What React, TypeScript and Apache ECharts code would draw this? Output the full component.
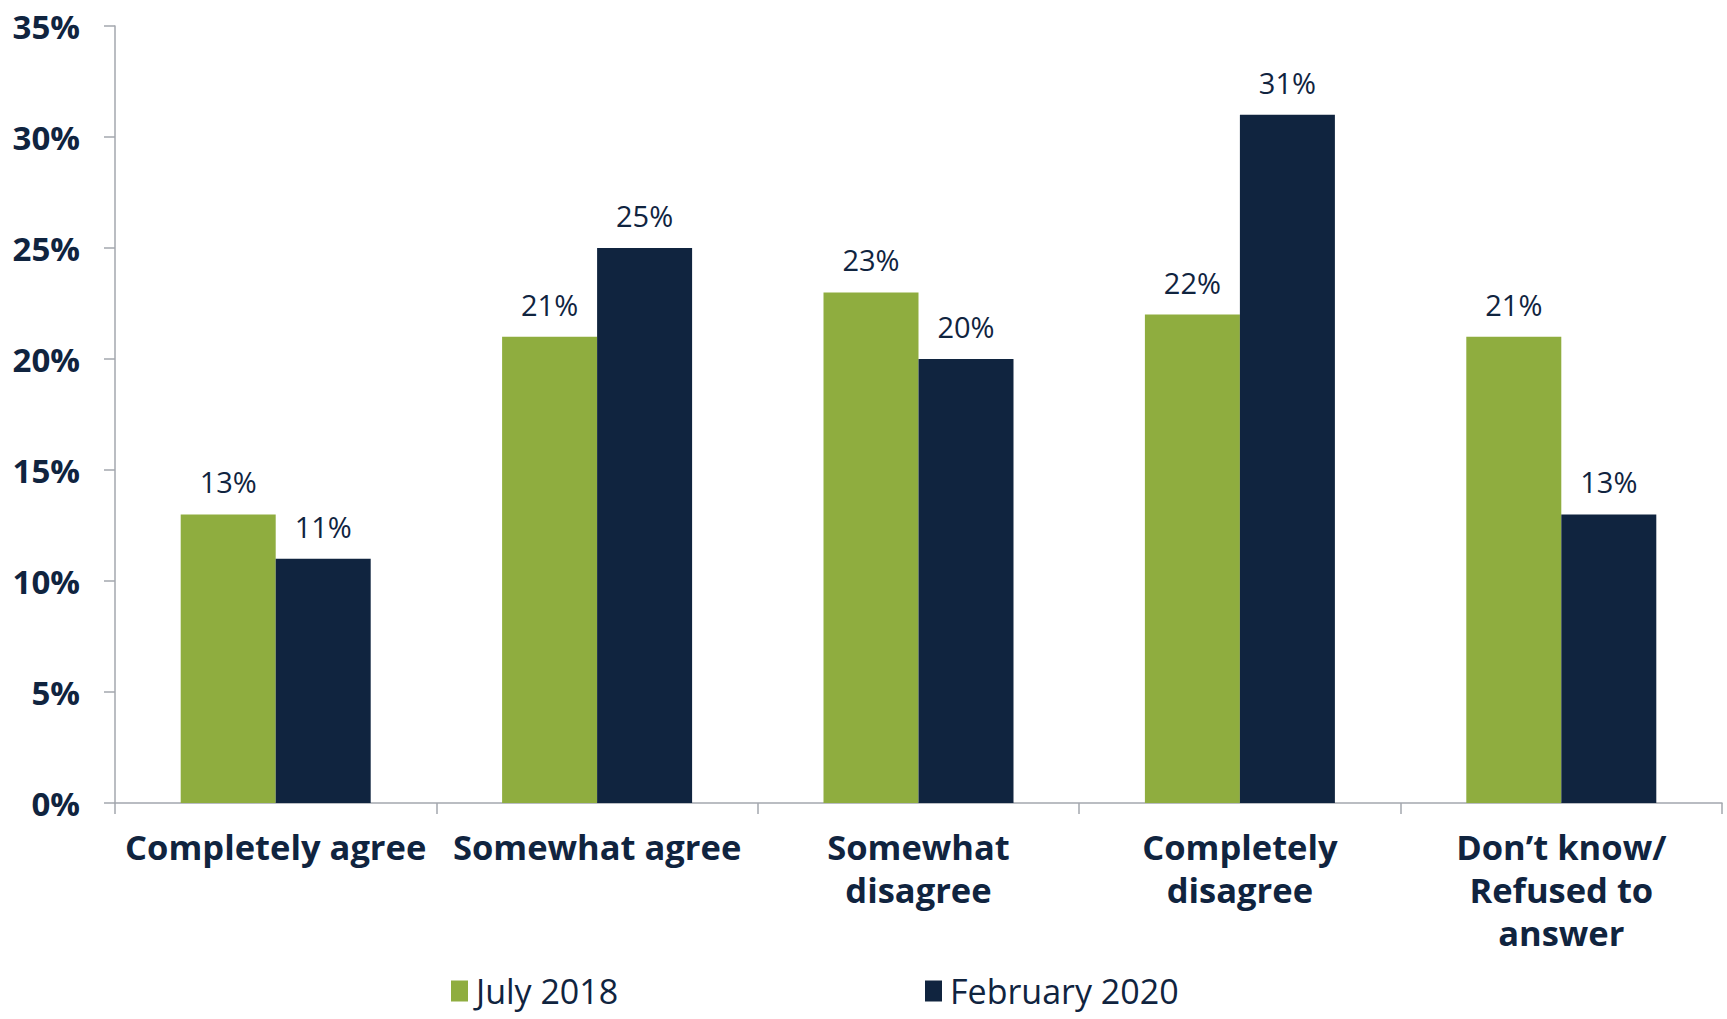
import React, { useEffect, useRef } from "react";
import * as echarts from "echarts";

const categories = [
  "Completely agree",
  "Somewhat agree",
  "Somewhat\ndisagree",
  "Completely\ndisagree",
  "Don’t know/\nRefused to\nanswer",
];
const july2018 = [13, 21, 23, 22, 21];
const feb2020 = [11, 25, 20, 31, 13];
const seriesNames = ["July 2018", "February 2020"];

const GREEN = "#8FAD3F";
const NAVY = "#10243F";
const TEXT = "#10243F";
const AXIS = "#A3A7AE";
const FONT = "'Open Sans', sans-serif";

export default function App() {
  const ref = useRef<HTMLDivElement>(null);
  useEffect(() => {
    if (!ref.current) return;
    const chart = echarts.init(ref.current, undefined, { renderer: "svg" });
    const label = {
      show: true,
      position: "top",
      distance: 18,
      formatter: "{c}%",
      color: TEXT,
      fontFamily: FONT,
      fontSize: 29,
      fontWeight: "normal",
    };
    const legendBase = {
      top: 973,
      padding: 0,
      itemWidth: 17,
      itemHeight: 21,
      icon: "rect",
      textStyle: {
        color: TEXT,
        fontFamily: FONT,
        fontSize: 34,
        lineHeight: 36,
        padding: [0, 0, 0, 3],
      },
    };
    chart.setOption({
      animation: false,
      backgroundColor: "#ffffff",
      textStyle: { fontFamily: FONT },
      grid: { left: 115, right: 5, top: 26, bottom: 216, containLabel: false },
      legend: [
        { ...legendBase, left: 451, data: [seriesNames[0]] },
        { ...legendBase, left: 925, data: [seriesNames[1]] },
      ],
      xAxis: {
        type: "category",
        data: categories,
        axisLine: { lineStyle: { color: AXIS, width: 1.5 } },
        axisTick: { show: true, length: 11, lineStyle: { color: AXIS, width: 1.5 } },
        axisLabel: {
          interval: 0,
          margin: 22,
          color: TEXT,
          fontFamily: FONT,
          fontWeight: "bold",
          fontSize: 34.5,
          lineHeight: 43,
        },
      },
      yAxis: {
        type: "value",
        min: 0,
        max: 35,
        interval: 5,
        splitLine: { show: false },
        axisLine: { show: true, lineStyle: { color: AXIS, width: 1.5 } },
        axisTick: { show: true, length: 11, lineStyle: { color: AXIS, width: 1.5 } },
        axisLabel: {
          formatter: "{value}%",
          margin: 35,
          color: TEXT,
          fontFamily: FONT,
          fontWeight: "bold",
          fontSize: 33,
        },
      },
      series: [
        {
          name: seriesNames[0],
          type: "bar",
          data: july2018,
          barWidth: 95,
          barGap: "0%",
          itemStyle: { color: GREEN },
          label,
        },
        {
          name: seriesNames[1],
          type: "bar",
          data: feb2020,
          barWidth: 95,
          barGap: "0%",
          itemStyle: { color: NAVY },
          label,
        },
      ],
    });
    return () => chart.dispose();
  }, []);
  return (
    <div
      ref={ref}
      style={{ position: "fixed", left: 0, top: 0, width: 1727, height: 1019, background: "#fff" }}
    />
  );
}
